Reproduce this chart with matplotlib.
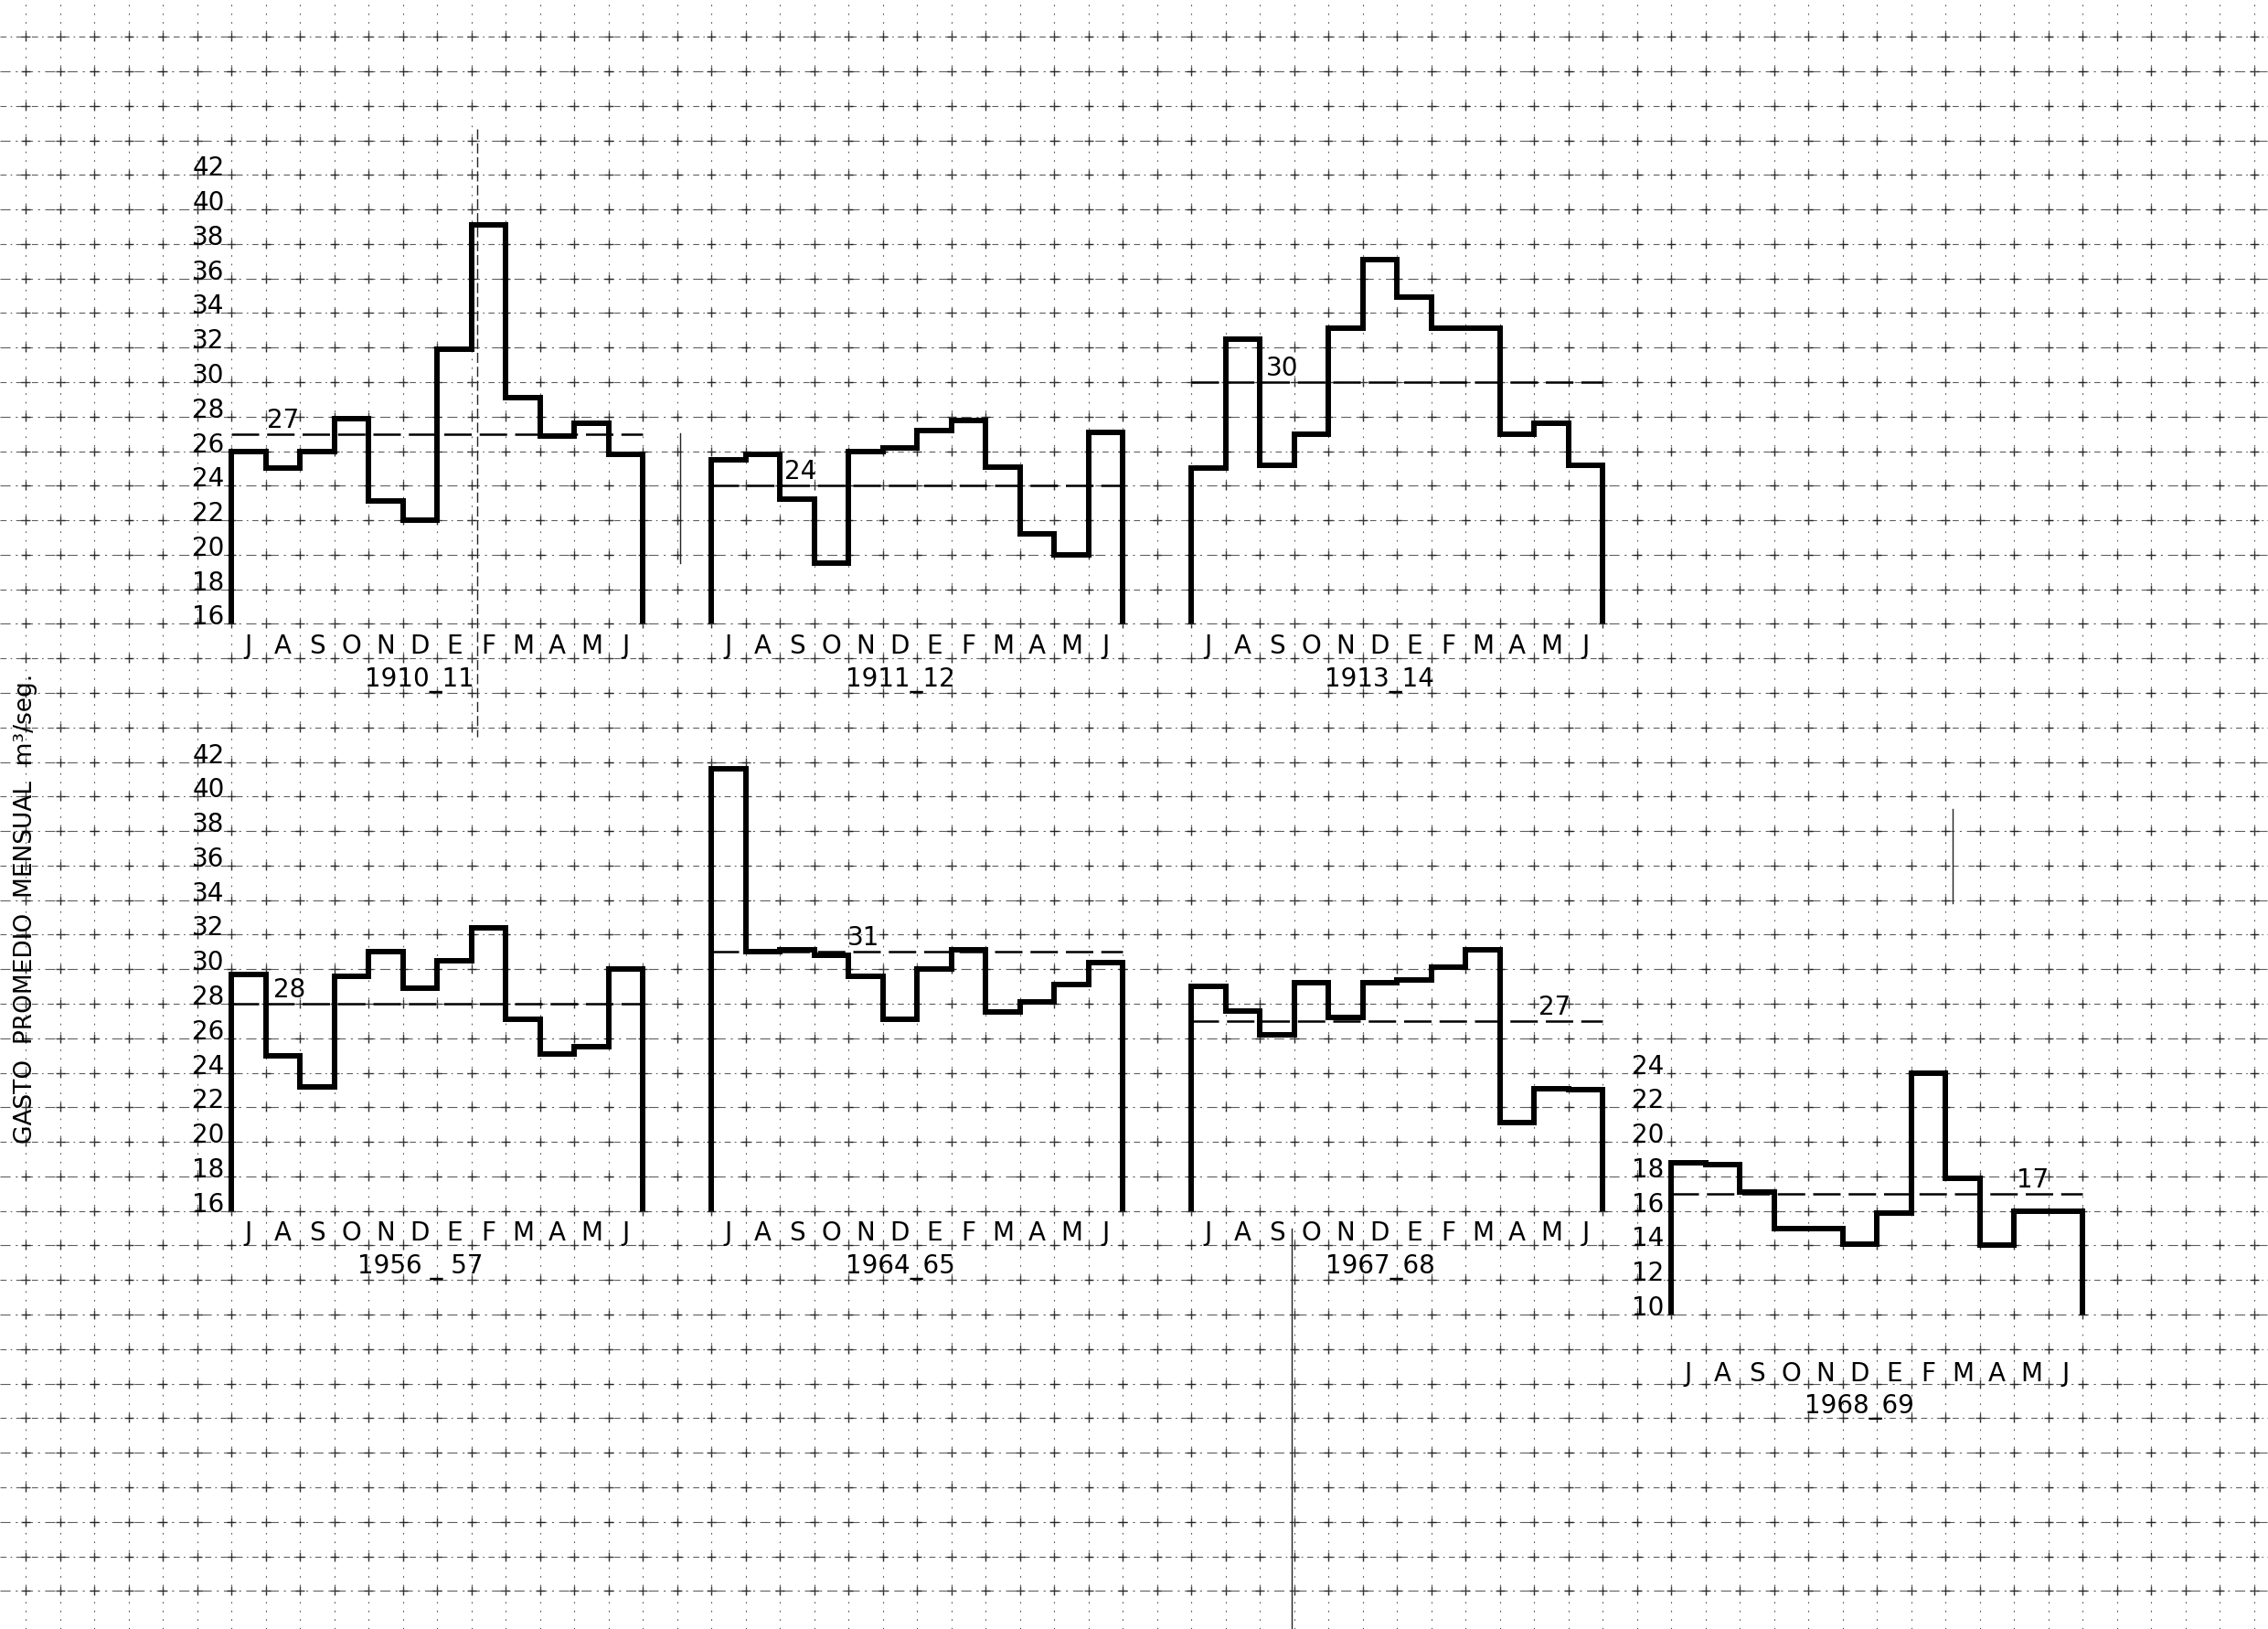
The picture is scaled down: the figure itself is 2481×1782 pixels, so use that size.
import numpy as np
import matplotlib
matplotlib.use("Agg")
import matplotlib.pyplot as plt

plt.rcParams["font.family"] = ["DejaVu Sans"]

# Monthly mean discharge (m3/s), hydrological year July-June
MONTHS = ["J", "A", "S", "O", "N", "D", "E", "F", "M", "A", "M", "J"]

q_1910_11 = [26.0, 25.0, 26.0, 27.9, 23.1, 22.0, 31.9, 39.1, 29.1, 26.9, 27.6, 25.8]
q_1911_12 = [25.5, 25.8, 23.2, 19.5, 26.0, 26.2, 27.2, 27.8, 25.1, 21.2, 20.0, 27.1]
q_1913_14 = [25.0, 32.5, 25.2, 27.0, 33.1, 37.1, 34.9, 33.1, 33.1, 27.0, 27.6, 25.2]
q_1956_57 = [29.7, 25.0, 23.2, 29.6, 31.0, 28.9, 30.5, 32.4, 27.1, 25.1, 25.5, 30.0]
q_1964_65 = [41.6, 31.0, 31.1, 30.8, 29.6, 27.1, 30.0, 31.1, 27.5, 28.1, 29.1, 30.4]
q_1967_68 = [29.0, 27.6, 26.2, 29.2, 27.2, 29.2, 29.4, 30.1, 31.1, 21.1, 23.1, 23.0]
q_1968_69 = [18.8, 18.7, 17.1, 15.0, 15.0, 14.1, 15.9, 24.0, 17.9, 14.0, 16.0, 16.0]

year_labels = ["1910_11", "1911_12", "1913_14", "1956 _ 57", "1964_65", "1967_68", "1968_69"]
annual_means = [27, 24, 30, 28, 31, 27, 17]
mean_label_x = [1.5, 2.6, 2.65, 1.7, 4.45, 10.6, 10.55]

yticks_main = list(range(16, 43, 2))
yticks_low = list(range(10, 25, 2))

series = [q_1910_11, q_1911_12, q_1913_14, q_1956_57, q_1964_65, q_1967_68, q_1968_69]

# ---- layout on the graph paper (figure fractions) ----
W, H = 24.81, 17.83
CX = 23.7 / 1568          # paper cell width  (one month)
CY = 23.88 / 1127         # paper cell height (two m3/s)
X0 = 160 / 1568           # left edge of first column
YB = 1 - 432 / 1127       # baseline of upper row

# (column, bottom in cells relative to YB, ymin, ymax)
panels = [
    (0, 0, 16, 42), (1, 0, 16, 42), (2, 0, 16, 42),
    (0, -17, 16, 42), (1, -17, 16, 42), (2, -17, 16, 42),
    (3, -20, 10, 24),
]

fig = plt.figure(figsize=(W, H), dpi=100)
fig.patch.set_facecolor("white")

# ---- graph paper background ----
bg = fig.add_axes([0, 0, 1, 1], zorder=0)
bg.set_xlim(0, 1)
bg.set_ylim(0, 1)
bg.axis("off")
gx = X0 + CX * np.arange(-10, 70)
gx = gx[(gx > 0.005) & (gx < 0.998)]
gy = YB + CY * np.arange(-40, 40)
gy = gy[(gy > 0.003) & (gy < 0.997)]
for i, y in enumerate(gy):
    style = (0, (6, 4, 1.5, 4)) if i % 2 else (0, (10, 5, 2, 5))
    bg.plot([0, 1], [y, y], color="#2a2a2a", lw=0.8, ls=style, alpha=0.75)
for x in gx:
    bg.plot([x, x], [0, 1], color="#2a2a2a", lw=0.8, ls=(0, (1.5, 7)), alpha=0.8)
XX, YY = np.meshgrid(gx, gy)
bg.plot(XX.ravel(), YY.ravel(), "+", color="#1a1a1a", ms=7, mew=1.0, alpha=0.85)
# a few heavier rulings on the sheet
bg.plot([330 / 1568] * 2, [1 - 90 / 1127, 1 - 510 / 1127], color="#222", lw=1.0,
        ls=(0, (8, 3)))
bg.plot([893 / 1568] * 2, [0, 1 - 850 / 1127], color="#222", lw=1.0)
bg.plot([470 / 1568] * 2, [1 - 300 / 1127, 1 - 390 / 1127], color="#222", lw=1.0)
bg.plot([1350 / 1568] * 2, [1 - 560 / 1127, 1 - 625 / 1127], color="#222", lw=1.0)

FS = 20

for k, (col, brow, ymin, ymax) in enumerate(panels):
    left = X0 + 14 * col * CX
    bottom = YB + brow * CY
    height = (ymax - ymin) / 2 * CY
    ax = fig.add_axes([left, bottom, 12 * CX, height], zorder=2)
    ax.set_xlim(0, 12)
    ax.set_ylim(ymin, ymax)
    ax.axis("off")
    ax.patch.set_alpha(0)

    vals = series[k]
    ax.stairs(vals, np.arange(13), baseline=ymin, fill=False,
              color="black", lw=4.3, clip_on=False, joinstyle="miter")

    m = annual_means[k]
    ax.plot([0, 12], [m, m], color="black", lw=1.8,
            ls=(0, (12, 3.5)), clip_on=False)
    ax.text(mean_label_x[k], m + 0.85, str(m), ha="center", va="center",
            fontsize=FS, color="black")

    low = (k == 6)
    month_dy = 3.4 if low else 1.25
    year_dy = 5.3 if low else 3.2
    for i, lab in enumerate(MONTHS):
        ax.text(i + 0.5, ymin - month_dy, lab, ha="center", va="center",
                fontsize=FS, color="black", clip_on=False)
    ax.text(5.5, ymin - year_dy, year_labels[k], ha="center", va="center",
            fontsize=FS, color="black", clip_on=False)

    if col == 0 or low:
        ticks = yticks_low if low else yticks_main
        for v in ticks:
            ax.text(-0.2, v, str(v), ha="right", va="baseline",
                    fontsize=FS, color="black", clip_on=False)

fig.text(18 / 1568, 1 - 628 / 1127, "GASTO  PROMEDIO  MENSUAL  m³/seg.",
         rotation=90, ha="center", va="center", fontsize=19, color="black")

fig.savefig("out.png", dpi=100, facecolor="white")
